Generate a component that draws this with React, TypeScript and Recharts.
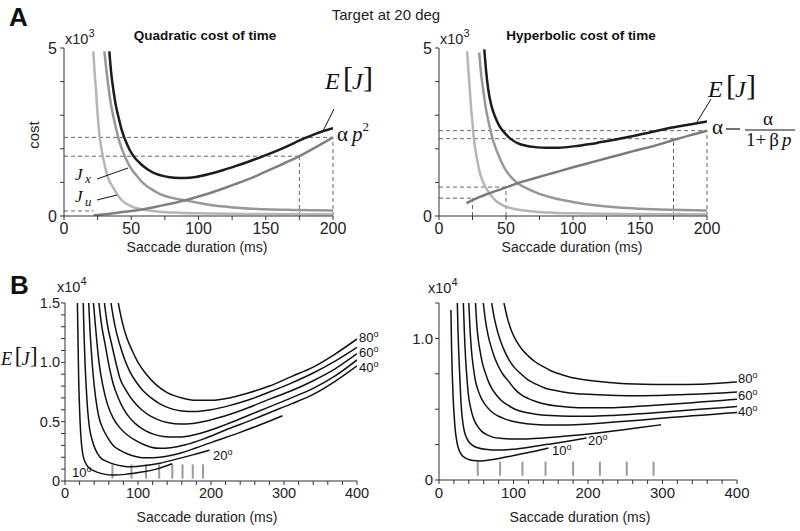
import { LineChart, Line, XAxis, YAxis, ReferenceLine } from "recharts";

type Pt = [number, number];

// ---- panel A, quadratic cost of time (cost, x10^3) ----
const quadEJ: Pt[] = [[33.7,4.9],[35,4.3],[36.7,3.75],[38.5,3.3],[40.4,2.96],[43,2.55],[46.6,2.16],[51,1.82],[56.5,1.57],[62,1.39],[68,1.26],[75,1.18],[82,1.14],[90,1.13],[98,1.16],[108,1.25],[118,1.36],[128,1.49],[140,1.66],[152,1.84],[165,2.06],[177,2.28],[188,2.46],[200,2.61]];
const quadTime: Pt[] = [[22,0.02],[30,0.05],[40,0.1],[50,0.15],[60,0.21],[70,0.29],[80,0.37],[90,0.47],[100,0.58],[110,0.7],[120,0.84],[130,0.99],[140,1.14],[150,1.32],[160,1.5],[175,1.78],[187,2.04],[200,2.34]];
const quadJx: Pt[] = [[30,4.9],[31.5,4.35],[33,3.85],[35,3.3],[36.7,2.96],[39,2.55],[41.6,2.16],[45,1.8],[49,1.47],[54,1.2],[59,0.97],[65,0.8],[71.4,0.65],[80,0.54],[91,0.46],[100,0.39],[108.5,0.33],[120,0.28],[133,0.23],[150,0.2],[170,0.18],[200,0.16]];
const quadJu: Pt[] = [[21.8,4.9],[22.7,4.3],[23.8,3.75],[24.6,3.25],[25.5,2.76],[26.7,2.3],[28,1.96],[29.8,1.6],[31.7,1.27],[34,1.02],[36.7,0.84],[40,0.62],[44,0.43],[49,0.31],[54,0.23],[62,0.17],[71,0.13],[85,0.1],[100,0.08],[125,0.065],[150,0.058],[200,0.05]];
const quadGuideH: Pt[] = [[2.34,200],[1.78,175],[0.15,22]]; // [cost, end of line]
const quadGuideV: Pt[] = [[175,1.78],[200,2.34]]; // [duration, top of line]

// ---- panel A, hyperbolic cost of time ----
const hypEJ: Pt[] = [[33.8,4.96],[35.2,4.3],[36.8,3.75],[39,3.3],[41.8,2.96],[45,2.68],[49.3,2.46],[54,2.28],[59,2.16],[65,2.09],[71.6,2.05],[80,2.03],[88,2.03],[96,2.05],[104,2.09],[113,2.14],[121,2.2],[134,2.29],[146,2.39],[158,2.49],[171,2.61],[185,2.71],[200,2.81]];
const hypTime: Pt[] = [[20.5,0.38],[25,0.47],[30,0.56],[35,0.64],[42,0.74],[50,0.85],[59,0.98],[70,1.11],[85,1.28],[100,1.45],[115,1.61],[130,1.77],[145,1.93],[160,2.08],[175,2.26],[187,2.4],[200,2.54]];
const hypJx: Pt[] = [[30,4.86],[31.5,4.2],[33,3.75],[35,3.2],[37,2.8],[40,2.3],[44,1.85],[49,1.42],[54,1.15],[59,0.97],[66.7,0.8],[75,0.66],[84,0.55],[94,0.46],[104,0.39],[118,0.31],[134,0.25],[150,0.215],[171,0.185],[200,0.16]];
const hypJu: Pt[] = [[21,4.9],[22,4.3],[23,3.75],[24,3.2],[25,2.76],[26,2.3],[27.2,1.96],[28.8,1.6],[30.6,1.27],[33,1.0],[35.6,0.8],[39,0.6],[43,0.43],[48,0.31],[54,0.23],[62,0.17],[71.6,0.13],[85,0.1],[100,0.08],[125,0.065],[150,0.058],[200,0.05]];
const hypGuideH: Pt[] = [[2.54,200],[2.3,175],[0.86,50],[0.53,25]];
const hypGuideV: Pt[] = [[25,0.53],[50,0.86],[175,2.3],[200,2.54]];

// ---- panel B, quadratic: E[J] (x10^4) for 10..80 deg ----
const quad10: Pt[] = [[17,1.5],[17.8,1.2],[18.7,0.87],[20,0.6],[21.5,0.4],[24,0.24],[27.5,0.16],[33,0.11],[39,0.087],[52,0.06],[66,0.05],[85,0.058],[105,0.075],[125,0.1],[147,0.145]];
const quad20: Pt[] = [[25,1.5],[26,1.25],[27.4,1.0],[29,0.8],[31,0.6],[33.5,0.45],[37,0.35],[41,0.275],[48,0.2],[57,0.165],[68,0.14],[80,0.125],[90,0.12],[110,0.13],[130,0.15],[150,0.18],[175,0.22],[198,0.26]];
const quad30: Pt[] = [[32.5,1.5],[34,1.3],[36,1.1],[38.5,0.9],[42,0.7],[46,0.55],[52,0.44],[58,0.37],[66,0.3],[75,0.26],[85,0.23],[98,0.205],[112,0.195],[130,0.2],[155,0.23],[180,0.28],[210,0.345],[240,0.41],[270,0.48],[298,0.55]];
const quad40: Pt[] = [[39,1.5],[41.5,1.32],[44,1.15],[47,0.98],[52,0.8],[58,0.65],[66,0.53],[75,0.45],[85,0.39],[96,0.345],[107,0.31],[118,0.285],[130,0.275],[145,0.28],[165,0.305],[190,0.355],[220,0.43],[250,0.5],[280,0.575],[310,0.65],[340,0.73],[370,0.84],[400,0.97]];
const quad50: Pt[] = [[46.5,1.5],[50,1.32],[55,1.15],[60,0.98],[66,0.82],[73,0.7],[80,0.61],[89,0.53],[98,0.475],[110,0.425],[121,0.395],[135,0.375],[150,0.37],[170,0.38],[195,0.42],[220,0.475],[250,0.55],[280,0.625],[310,0.7],[340,0.78],[370,0.885],[400,1.02]];
const quad60: Pt[] = [[54,1.5],[58,1.32],[64,1.15],[70,0.99],[75,0.87],[84,0.76],[94,0.67],[105,0.6],[116,0.55],[128,0.515],[142,0.49],[158,0.48],[175,0.485],[200,0.515],[225,0.56],[250,0.615],[280,0.69],[310,0.76],[340,0.845],[370,0.945],[400,1.073]];
const quad70: Pt[] = [[63,1.5],[68,1.32],[75,1.15],[82,1.02],[89,0.92],[98,0.83],[107,0.76],[118,0.7],[130,0.65],[145,0.61],[160,0.59],[178,0.585],[200,0.6],[225,0.635],[250,0.68],[280,0.75],[310,0.825],[340,0.91],[370,1.01],[400,1.126]];
const quad80: Pt[] = [[73,1.5],[78,1.35],[85,1.2],[92,1.1],[100,1.0],[110,0.91],[125,0.81],[140,0.745],[160,0.7],[180,0.68],[200,0.68],[225,0.7],[250,0.74],[280,0.8],[310,0.88],[340,0.96],[370,1.07],[400,1.197]];
const quadOptDur = [65, 91, 111, 129, 147, 161, 175, 189];

// ---- panel B, hyperbolic ----
const hyp10: Pt[] = [[16,1.2],[16.8,0.95],[17.8,0.75],[19,0.58],[20.3,0.46],[21.5,0.37],[24,0.27],[27,0.21],[30.5,0.177],[35,0.157],[40,0.145],[46,0.137],[55,0.135],[70,0.143],[90,0.162],[110,0.183],[130,0.205],[147,0.226]];
const hyp20: Pt[] = [[24.6,1.25],[25.5,1.05],[26.5,0.9],[28,0.72],[29.5,0.55],[31,0.45],[33,0.37],[36,0.31],[40,0.27],[45,0.245],[52,0.228],[62,0.217],[80,0.211],[100,0.218],[125,0.235],[150,0.255],[175,0.276],[198,0.296]];
const hyp30: Pt[] = [[32.7,1.25],[34,1.05],[35.8,0.85],[37.5,0.72],[39.5,0.6],[42,0.52],[46,0.44],[51,0.385],[57,0.345],[64,0.32],[72,0.303],[85,0.293],[100,0.289],[115,0.289],[140,0.297],[175,0.312],[210,0.331],[240,0.35],[270,0.37],[298,0.39]];
const hyp40: Pt[] = [[40,1.25],[41.5,1.08],[43.5,0.92],[46,0.8],[48.5,0.71],[52,0.64],[57,0.575],[63,0.525],[71,0.48],[80,0.45],[89,0.43],[100,0.413],[111,0.402],[125,0.393],[142,0.388],[165,0.388],[190,0.392],[220,0.402],[250,0.415],[280,0.428],[310,0.441],[340,0.453],[370,0.465],[400,0.477]];
const hyp50: Pt[] = [[49,1.25],[51,1.08],[53,0.98],[55.5,0.9],[58.5,0.82],[62,0.76],[66,0.7],[71,0.645],[77,0.6],[84,0.56],[92,0.53],[102,0.5],[115,0.478],[129,0.465],[150,0.455],[175,0.45],[200,0.45],[230,0.455],[260,0.465],[290,0.475],[320,0.488],[350,0.5],[380,0.511],[400,0.519]];
const hyp60: Pt[] = [[59.5,1.25],[62,1.14],[66,1.02],[70,0.94],[75,0.86],[80,0.8],[86,0.745],[93,0.7],[102,0.64],[111,0.6],[120,0.575],[131,0.553],[142,0.537],[158,0.522],[175,0.514],[200,0.51],[230,0.511],[260,0.518],[290,0.528],[320,0.538],[350,0.55],[380,0.562],[400,0.57]];
const hyp70: Pt[] = [[70.7,1.25],[74,1.15],[77.5,1.07],[82,0.99],[88,0.91],[95,0.84],[102,0.79],[110,0.75],[120,0.705],[131,0.675],[142,0.65],[158,0.63],[175,0.615],[200,0.605],[230,0.598],[260,0.595],[290,0.597],[320,0.602],[350,0.607],[380,0.615],[400,0.622]];
const hyp80: Pt[] = [[87.2,1.25],[92,1.14],[97.5,1.05],[104,0.98],[111,0.925],[120,0.875],[129,0.835],[140,0.8],[151,0.77],[162,0.748],[175,0.728],[195,0.708],[218,0.693],[240,0.684],[263,0.678],[290,0.675],[320,0.674],[350,0.677],[375,0.684],[400,0.692]];
const hypOptDur = [52, 82, 112, 143, 180, 216, 252, 288];

const quadCurves = [quad10, quad20, quad30, quad40, quad50, quad60, quad70, quad80];
const hypCurves = [hyp10, hyp20, hyp30, hyp40, hyp50, hyp60, hyp70, hyp80];

const ticksA_x = [0, 25, 50, 75, 100, 125, 150, 175, 200];
const ticksA_y = [0, 1, 2, 3, 4, 5];
const ticksB_x = [0,20,40,60,80,100,120,140,160,180,200,220,240,260,280,300,320,340,360,380,400];
const ticksBL_y = [0,0.1,0.2,0.3,0.4,0.5,0.6,0.7,0.8,0.9,1,1.1,1.2,1.3,1.4,1.5];
const ticksBR_y = [0, 0.25, 0.5, 0.75, 1, 1.25];

const SANS = "'Liberation Sans', Arial, sans-serif";
const SERIF = "'Liberation Serif', 'Times New Roman', serif";
const AXIS = "#333";

const rows = (pts: Pt[]) => pts.map(([x, y]) => ({ x, y }));

const xTick = (shown: number[], fs: number) => (p: any) =>
  shown.includes(p.payload.value) ? (
    <text x={p.x} y={p.y} dy="0.71em" textAnchor="middle" fontSize={fs} fontFamily={SANS} fill="#222">
      {p.payload.value}
    </text>
  ) : (
    <g />
  );

const yTick = (shown: number[], fmt: (v: number) => string, fs: number) => (p: any) =>
  shown.includes(p.payload.value) ? (
    <text x={p.x} y={p.y} dy="0.35em" textAnchor="end" fontSize={fs} fontFamily={SANS} fill="#222">
      {fmt(p.payload.value)}
    </text>
  ) : (
    <g />
  );

const curve = (key: string, pts: Pt[], color: string, w: number) => (
  <Line key={key} data={rows(pts)} dataKey="y" type="monotone" stroke={color} strokeWidth={w}
    dot={false} activeDot={false} isAnimationActive={false} />
);

const dash = { stroke: "#555", strokeWidth: 0.9, strokeDasharray: "4 3" };

function Panel(props: any) {
  const { box, xMax, yMax, xTicks, xShown, yTicks, yShown, yFmt, fs, gap, children } = props;
  return (
    <div style={{ position: "absolute", left: box[0], top: box[1] }}>
      <LineChart width={box[2]} height={box[3]} margin={{ top: 10, right: 20, bottom: 0, left: 0 }}>
        <XAxis type="number" dataKey="x" domain={[0, xMax]} ticks={xTicks} interval={0} allowDataOverflow
          height={30} tickSize={4} tickMargin={3} axisLine={{ stroke: AXIS }} tickLine={{ stroke: AXIS }}
          tick={xTick(xShown, fs)} />
        <YAxis type="number" domain={[0, yMax]} ticks={yTicks} interval={0} allowDataOverflow
          width={40} tickSize={4} tickMargin={gap} axisLine={{ stroke: AXIS }} tickLine={{ stroke: AXIS }}
          tick={yTick(yShown, yFmt, fs)} />
        {children}
      </LineChart>
    </div>
  );
}

const fmtInt = (v: number) => String(v);
const fmt1 = (v: number) => (v === 0 ? "0" : v.toFixed(1));

function EJ({ x, y, k = 1 }: { x: number; y: number; k?: number }) {
  return (
    <g fontFamily={SERIF} fill="#111">
      <text x={x} y={y} fontSize={24 * k} fontStyle="italic">E</text>
      <text x={x + 18 * k} y={y - 2 * k} fontSize={30 * k}>[</text>
      <text x={x + 27 * k} y={y} fontSize={24 * k} fontStyle="italic">J</text>
      <text x={x + 38 * k} y={y - 2 * k} fontSize={30 * k}>]</text>
    </g>
  );
}

function Deg({ x, y, n }: { x: number; y: number; n: number }) {
  return (
    <text x={x} y={y} fontSize={13} fontFamily={SANS} fill="#111">
      {n}
      <tspan dy={-5} fontSize={9}>o</tspan>
    </text>
  );
}

function Times({ x, y, p }: { x: number; y: number; p: number }) {
  return (
    <text x={x} y={y} fontSize={14.5} fontFamily={SANS} fill="#222">
      x10
      <tspan dy={-7} fontSize={11}>{p}</tspan>
    </text>
  );
}

export default function App() {
  const colEJ = "#1c1c1c";
  const colTime = "#808080";
  const colJx = "#979797";
  const colJu = "#b6b6b6";
  return (
    <div style={{ position: "absolute", left: 0, top: 0, width: 800, height: 531, background: "#fff" }}>
      <Panel box={[24, 38, 329, 208]} xMax={200} yMax={5} xTicks={ticksA_x} xShown={[0, 50, 100, 150, 200]}
        yTicks={ticksA_y} yShown={[0, 5]} yFmt={fmtInt} fs={16} gap={3}>
        {quadGuideH.map(([v, e], i) => (
          <ReferenceLine key={"qh" + i} segment={[{ x: 0, y: v }, { x: e, y: v }]} {...dash} />
        ))}
        {quadGuideV.map(([d, t], i) => (
          <ReferenceLine key={"qv" + i} segment={[{ x: d, y: 0 }, { x: d, y: t }]} {...dash} />
        ))}
        {curve("qju", quadJu, colJu, 2.5)}
        {curve("qjx", quadJx, colJx, 2.5)}
        {curve("qt", quadTime, colTime, 2.5)}
        {curve("qej", quadEJ, colEJ, 2.5)}
      </Panel>

      <Panel box={[399, 38, 328, 208]} xMax={200} yMax={5} xTicks={ticksA_x} xShown={[0, 50, 100, 150, 200]}
        yTicks={ticksA_y} yShown={[0, 5]} yFmt={fmtInt} fs={16} gap={3}>
        {hypGuideH.map(([v, e], i) => (
          <ReferenceLine key={"hh" + i} segment={[{ x: 0, y: v }, { x: e, y: v }]} {...dash} />
        ))}
        {hypGuideV.map(([d, t], i) => (
          <ReferenceLine key={"hv" + i} segment={[{ x: d, y: 0 }, { x: d, y: t }]} {...dash} />
        ))}
        {curve("hju", hypJu, colJu, 2.5)}
        {curve("hjx", hypJx, colJx, 2.5)}
        {curve("ht", hypTime, "#7a7a7a", 2.5)}
        {curve("hej", hypEJ, colEJ, 2.5)}
      </Panel>

      <Panel box={[25, 293, 352, 218]} xMax={400} yMax={1.5} xTicks={ticksB_x} xShown={[0, 100, 200, 300, 400]}
        yTicks={ticksBL_y} yShown={[0, 0.5, 1, 1.5]} yFmt={fmt1} fs={14.5} gap={1}>
        {quadOptDur.map((d, i) => (
          <ReferenceLine key={"qm" + i} segment={[{ x: d, y: 0.02 }, { x: d, y: 0.14 }]} stroke="#9a9a9a" strokeWidth={2} />
        ))}
        {quadCurves.map((c, i) => curve("qb" + i, c, "#111", 1.5))}
      </Panel>

      <Panel box={[399, 293, 358, 217]} xMax={400} yMax={1.25} xTicks={ticksB_x} xShown={[0, 100, 200, 300, 400]}
        yTicks={ticksBR_y} yShown={[0, 1]} yFmt={fmt1} fs={15} gap={2}>
        {hypOptDur.map((d, i) => (
          <ReferenceLine key={"hm" + i} segment={[{ x: d, y: 0.03 }, { x: d, y: 0.13 }]} stroke="#9a9a9a" strokeWidth={2} />
        ))}
        {hypCurves.map((c, i) => curve("hb" + i, c, "#111", 1.5))}
      </Panel>

      <svg width={800} height={531} style={{ position: "absolute", left: 0, top: 0, pointerEvents: "none" }}>
        <text x={9} y={26} fontSize={26} fontWeight="bold" fontFamily={SANS} fill="#111">A</text>
        <text x={10} y={294} fontSize={26} fontWeight="bold" fontFamily={SANS} fill="#111">B</text>
        <text x={386} y={20} fontSize={15} fontFamily={SANS} textAnchor="middle" fill="#222">Target at 20 deg</text>
        <text x={205} y={40} fontSize={13.5} fontWeight="bold" fontFamily={SANS} textAnchor="middle" fill="#111">Quadratic cost of time</text>
        <text x={581} y={40} fontSize={13.5} fontWeight="bold" fontFamily={SANS} textAnchor="middle" fill="#111">Hyperbolic cost of time</text>

        <Times x={65} y={44} p={3} />
        <Times x={440} y={44} p={3} />
        <Times x={57} y={292} p={4} />
        <Times x={428} y={293} p={4} />

        <text transform="translate(39,135) rotate(-90)" fontSize={15} fontFamily={SANS} textAnchor="middle" fill="#222">cost</text>

        <text x={197} y={252} fontSize={14} fontFamily={SANS} textAnchor="middle" fill="#222">Saccade duration (ms)</text>
        <text x={572} y={252} fontSize={14} fontFamily={SANS} textAnchor="middle" fill="#222">Saccade duration (ms)</text>
        <text x={207} y={522} fontSize={14} fontFamily={SANS} textAnchor="middle" fill="#222">Saccade duration (ms)</text>
        <text x={580} y={522} fontSize={14} fontFamily={SANS} textAnchor="middle" fill="#222">Saccade duration (ms)</text>

        {/* panel A annotations */}
        <EJ x={325} y={89} />
        <line x1={323} y1={131} x2={334} y2={109} stroke="#111" strokeWidth={1} />
        <text x={337} y={141} fontSize={21} fontFamily={SERIF} fill="#111">
          α<tspan dx={4} fontStyle="italic">p</tspan><tspan dy={-10} fontSize={13}>2</tspan>
        </text>
        <text x={75} y={180} fontSize={17} fontFamily={SERIF} fontStyle="italic" fill="#111">J</text>
        <text x={85} y={183} fontSize={13} fontFamily={SERIF} fontStyle="italic" fill="#111">x</text>
        <line x1={97} y1={179} x2={128} y2={168} stroke="#111" strokeWidth={1} />
        <text x={75} y={202} fontSize={17} fontFamily={SERIF} fontStyle="italic" fill="#111">J</text>
        <text x={85} y={206} fontSize={13} fontFamily={SERIF} fontStyle="italic" fill="#111">u</text>
        <line x1={97} y1={200} x2={117} y2={195} stroke="#111" strokeWidth={1} />

        <EJ x={708} y={97} />
        <line x1={697} y1={122} x2={711} y2={99} stroke="#111" strokeWidth={1} />
        <text x={712} y={134} fontSize={21} fontFamily={SERIF} fill="#111">α</text>
        <line x1={726} y1={129} x2={740} y2={129} stroke="#111" strokeWidth={1.2} />
        <text x={763} y={125} fontSize={19} fontFamily={SERIF} fill="#111">α</text>
        <line x1={745} y1={130} x2={795} y2={130} stroke="#111" strokeWidth={1} />
        <text x={746} y={146} fontSize={19} fontFamily={SERIF} fill="#111">
          1+<tspan dx={3}>β</tspan><tspan dx={3} fontStyle="italic">p</tspan>
        </text>

        {/* panel B annotations */}
        <EJ x={1} y={365} k={0.76} />
        <Deg x={359} y={342} n={80} />
        <Deg x={359} y={357} n={60} />
        <Deg x={359} y={372} n={40} />
        <Deg x={213} y={460} n={20} />
        <Deg x={72} y={477} n={10} />

        <Deg x={738} y={383} n={80} />
        <Deg x={738} y={400} n={60} />
        <Deg x={738} y={416} n={40} />
        <Deg x={588} y={445} n={20} />
        <Deg x={552} y={455} n={10} />
      </svg>
    </div>
  );
}
